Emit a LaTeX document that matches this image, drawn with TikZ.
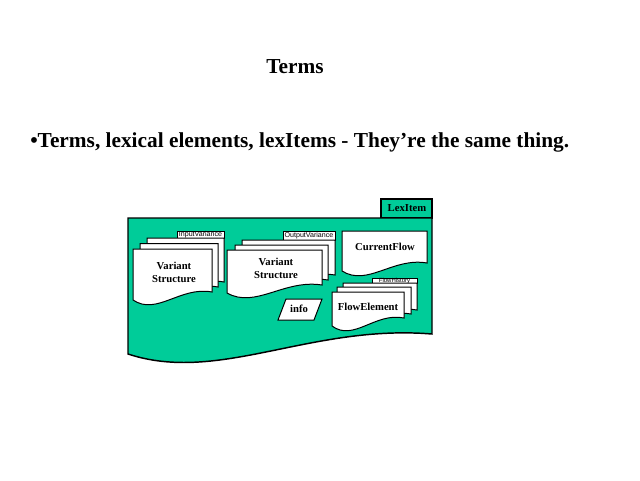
\documentclass[tikz,border=0pt]{standalone}
\usepackage{fontspec}
\setmainfont{Liberation Serif}
\newfontfamily\tabfont{Liberation Sans}
\usepackage{xcolor}
\usepackage{tikz}
\usetikzlibrary{positioning}

\definecolor{pkggreen}{RGB}{0,204,153}

% Trang tai lieu co day luon song: x1,y1,x2,y2 (pixel, y huong xuong)
\newcommand{\docpage}[4]{%
  \filldraw[page] (#1,#2) -- (#3,#2) -- (#3,{#4-8})
    .. controls ({#1+0.6*(#3-#1)},{#4-14}) and ({#1+0.3*(#3-#1)},{#4+16}) .. (#1,#4) -- cycle;}

\begin{document}
\begin{tikzpicture}[x=0.75pt,y=-0.75pt]
        % Style cho cac trang va nhan
        \tikzstyle{page} = [draw=black, fill=white, line width=0.75pt]
        \tikzstyle{pkgline} = [draw=black, fill=pkggreen, line width=1.1pt]
        \tikzstyle{lbl} = [font=\fontsize{8}{9.75}\selectfont\bfseries, align=center, inner sep=0pt]
        \tikzstyle{tabtxt} = [font=\tabfont\fontsize{5.3}{5.3}\selectfont, inner sep=0pt]
        \tikzstyle{big} = [font=\fontsize{16}{19}\selectfont\bfseries, inner sep=0pt]

        \useasboundingbox (0,0) rectangle (640,480);

        % Tieu de va dong chu
        \node[big, anchor=base] (title) at (295,73) {Terms};
        \node[big, anchor=base west] (bullet) at (30,147) {•Terms, lexical elements, lexItems - They’re the same thing.};

        % Goi LexItem: the tab va than
        \filldraw[pkgline] (381,199) rectangle (432,218);
        \node[lbl] (lexitem) at (407,208) {LexItem};
        \filldraw[pkgline] (128,218) -- (432,218) -- (432,334)
            .. controls (310,324) and (219,384) .. (128,354) -- cycle;

        % Chong trang InputVariance
        \filldraw[page] (177,231) rectangle (224,238);
        \node[tabtxt] (tabIn) at (200.5,234.5) {InputVariance};
        \docpage{147}{238}{224}{290}
        \docpage{140}{243.5}{218}{295}
        \docpage{133}{249}{212}{300}
        \node[lbl] (vsIn) at (174,272) {Variant\\Structure};

        % Chong trang OutputVariance
        \filldraw[page] (283,231) rectangle (335,240);
        \node[tabtxt] (tabOut) at (309,235.5) {OutputVariance};
        \docpage{242}{240}{335}{283}
        \docpage{235}{245}{328}{288}
        \docpage{227}{250}{322}{293}
        \node[lbl] (vsOut) at (276,268) {Variant\\Structure};

        % Trang CurrentFlow
        \docpage{342}{231}{427}{271}
        \node[lbl] (curFlow) at (385,247) {CurrentFlow};

        % Chong trang FlowHistory
        \filldraw[page] (372,278) rectangle (417,283);
        \node[tabtxt, font=\tabfont\fontsize{4.5}{4.5}\selectfont] (tabHist) at (394.5,280.5) {FlowHistory};
        \docpage{343}{283}{417}{318}
        \docpage{337}{287}{411}{322}
        \docpage{332}{292}{404}{326}
        \node[lbl] (flowEl) at (368,307) {FlowElement};

        % Hinh binh hanh info
        \filldraw[page] (286,299) -- (322,299) -- (314,320) -- (278,320) -- cycle;
        \node[lbl] (info) at (299,309) {info};

    \end{tikzpicture}
\end{document}
